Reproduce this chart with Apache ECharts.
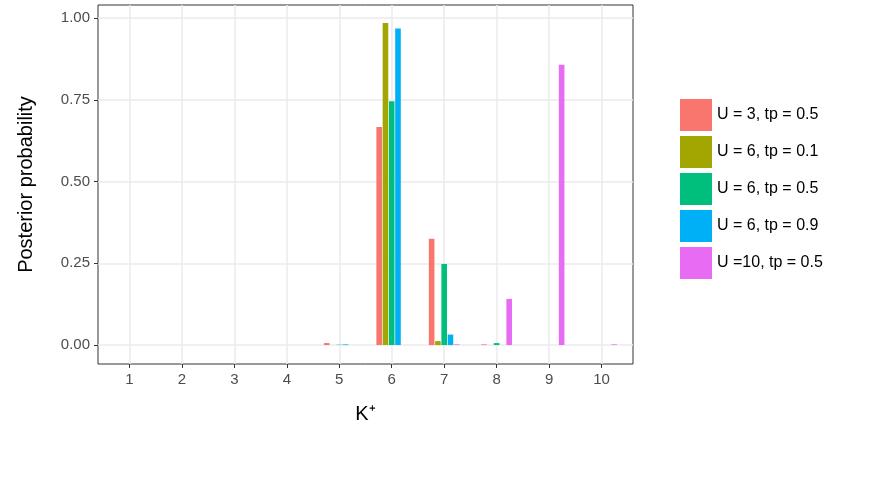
<!DOCTYPE html>
<html><head><meta charset="utf-8">
<script src="https://cdn.jsdelivr.net/npm/echarts@6/dist/echarts.min.js"></script>
<style>body{margin:0}#main{width:874px;height:495px}</style>
</head><body><div id="main"></div>
<script>
var kValues = [1, 2, 3, 4, 5, 6, 7, 8, 9, 10];
var seriesNames = ['U = 3, tp = 0.5', 'U = 6, tp = 0.1', 'U = 6, tp = 0.5', 'U = 6, tp = 0.9', 'U =10, tp = 0.5'];
var colors = ['#F8766D', '#A3A500', '#00BF7D', '#00B0F6', '#E76BF3'];
var u3tp05  = [0, 0, 0, 0, 0.006, 0.667, 0.325, 0.002, 0, 0];
var u6tp01  = [0, 0, 0, 0, 0, 0.985, 0.012, 0, 0, 0];
var u6tp05  = [0, 0, 0, 0, 0.001, 0.746, 0.248, 0.006, 0, 0];
var u6tp09  = [0, 0, 0, 0, 0.002, 0.968, 0.032, 0, 0, 0];
var u10tp05 = [0, 0, 0, 0, 0, 0, 0.002, 0.141, 0.857, 0.002];
var yTicks = [0, 0.25, 0.5, 0.75, 1];

var allData = [u3tp05, u6tp01, u6tp05, u6tp09, u10tp05];
var myChart = echarts.init(document.getElementById('main'));
var series = allData.map(function(d, i){
	return {
		name: seriesNames[i], type: 'bar', barWidth: 5.6, barGap: '12%',
		itemStyle: {color: colors[i]},
		data: d.map(function(v, j){ return [kValues[j], v]; })
	};
});
var option = {
	animation: false,
	grid: {left: 98, right: 241, top: 5, bottom: 131, show: true, borderColor: '#333', borderWidth: 1},
	legend: {
		orient: 'vertical', left: 675, top: 94, itemWidth: 32, itemHeight: 32, itemGap: 5,
		icon: 'rect', textStyle: {fontSize: 16, color: '#000', fontFamily: 'Liberation Sans'},
		data: seriesNames
	},
	xAxis: {
		type: 'value', min: 0.4, max: 10.6,
		name: 'K⁺', nameLocation: 'middle', nameGap: 40,
		nameTextStyle: {fontSize: 20, color: '#000', fontFamily: 'Liberation Sans'},
		axisLine: {show: false, onZero: false},
		axisTick: {show: true, customValues: kValues, length: 4, lineStyle: {color: '#333'}},
		axisLabel: {customValues: kValues, fontSize: 15, color: '#4d4d4d', fontFamily: 'Liberation Sans'},
		splitLine: {show: true, lineStyle: {color: '#ebebeb', width: 1.5}}
	},
	yAxis: {
		type: 'value', min: -0.058, max: 1.04,
		name: 'Posterior probability', nameLocation: 'middle', nameGap: 62,
		nameTextStyle: {fontSize: 20, color: '#000', fontFamily: 'Liberation Sans'},
		axisLine: {show: false, onZero: false},
		axisTick: {show: true, customValues: yTicks, length: 4, lineStyle: {color: '#333'}},
		axisLabel: {customValues: yTicks, fontSize: 15, color: '#4d4d4d', fontFamily: 'Liberation Sans',
			formatter: function(v){ return v.toFixed(2); }},
		splitLine: {show: true, lineStyle: {color: '#ebebeb', width: 1.5}}
	},
	series: series
};
myChart.setOption(option, true);
</script></body></html>
